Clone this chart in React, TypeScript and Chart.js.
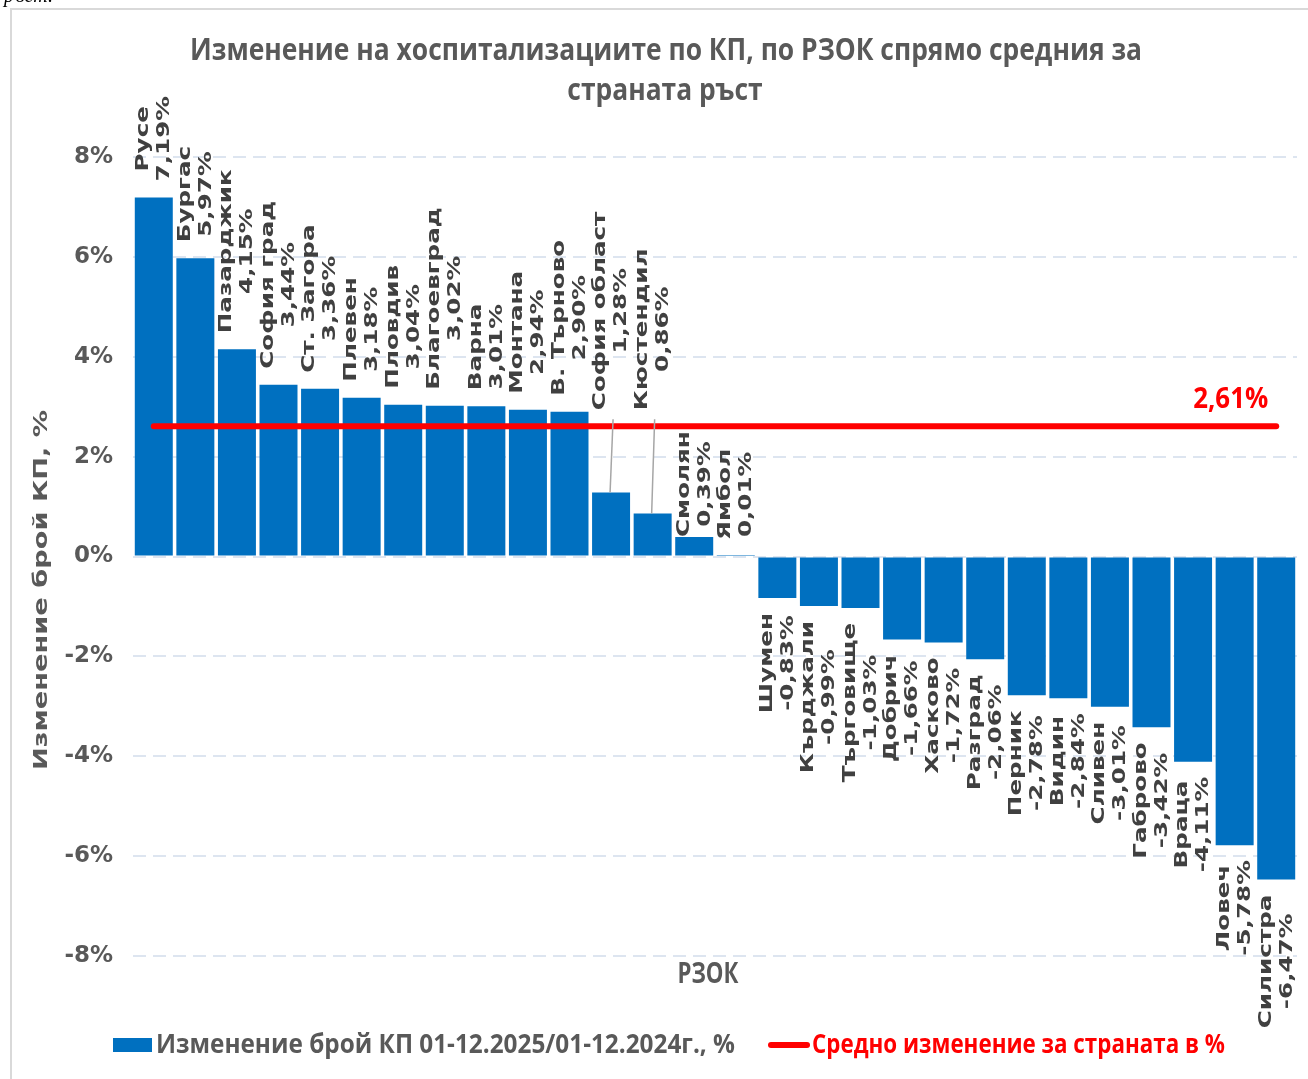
import { useEffect, useRef } from 'react';
import { Chart, registerables } from 'chart.js';

Chart.register(...registerables);

const categories = [
  'Русе', 'Бургас', 'Пазарджик', 'София град', 'Ст. Загора', 'Плевен', 'Пловдив',
  'Благоевград', 'Варна', 'Монтана', 'В. Търново', 'София област', 'Кюстендил',
  'Смолян', 'Ямбол', 'Шумен', 'Кърджали', 'Търговище', 'Добрич', 'Хасково',
  'Разград', 'Перник', 'Видин', 'Сливен', 'Габрово', 'Враца', 'Ловеч', 'Силистра',
];

const changeValues = [
  7.19, 5.97, 4.15, 3.44, 3.36, 3.18, 3.04, 3.02, 3.01, 2.94, 2.9, 1.28, 0.86,
  0.39, 0.01, -0.83, -0.99, -1.03, -1.66, -1.72, -2.06, -2.78, -2.84, -3.01,
  -3.42, -4.11, -5.78, -6.47,
];

const averageSeries = [
  2.61, 2.61, 2.61, 2.61, 2.61, 2.61, 2.61, 2.61, 2.61, 2.61, 2.61, 2.61, 2.61, 2.61,
  2.61, 2.61, 2.61, 2.61, 2.61, 2.61, 2.61, 2.61, 2.61, 2.61, 2.61, 2.61, 2.61, 2.61,
];

const yTickValues = [-8, -6, -4, -2, 0, 2, 4, 6, 8];

const titleLines = ['Изменение на хоспитализациите по КП, по РЗОК спрямо средния за', 'страната ръст'];
const seriesLabel = 'Изменение брой КП 01-12.2025/01-12.2024г., %';
const averageLabel = 'Средно изменение за страната в %';
const xAxisTitle = 'РЗОК';
const yAxisTitle = 'Изменение брой КП, %';

const leaderLabelNames = ['София област', 'Кюстендил'];
const snugLabelNames = ['Смолян'];

const fmt = (v: number) => v.toFixed(2).replace('.', ',') + '%';

const BLUE = '#0070C0';
const RED = '#FF0000';
const GRAY = '#595959';
const DARK = '#404040';

type TextOpts = {
  align?: CanvasTextAlign;
  baseline?: CanvasTextBaseline;
  rotate?: boolean;
  sx?: number;
  width?: number;
};

function drawText(
  ctx: CanvasRenderingContext2D,
  text: string,
  x: number,
  y: number,
  font: string,
  color: string,
  opts: TextOpts = {}
) {
  ctx.save();
  ctx.font = font;
  ctx.fillStyle = color;
  ctx.textAlign = opts.align || 'center';
  ctx.textBaseline = opts.baseline || 'alphabetic';
  const w = ctx.measureText(text).width;
  const sx = opts.width ? opts.width / w : opts.sx ?? 1;
  ctx.translate(x, y);
  if (opts.rotate) ctx.rotate(-Math.PI / 2);
  ctx.scale(sx, 1);
  ctx.fillText(text, 0, 0);
  ctx.restore();
  return sx;
}

const LABEL_FONT = 'bold 18.5px "DejaVu Sans"';
const LABEL_STRETCH = 1.33;

const decorPlugin = {
  id: 'decor',
  beforeDraw(chart: any) {
    const ctx: CanvasRenderingContext2D = chart.ctx;
    ctx.save();
    ctx.fillStyle = '#ffffff';
    ctx.fillRect(0, 0, chart.width, chart.height);
    ctx.fillStyle = '#d9d9d9';
    ctx.fillRect(10, 8, chart.width - 10, 2);
    ctx.fillRect(10, 8, 2, chart.height - 8);
    ctx.restore();
    drawText(ctx, 'ръст.', 4, 2, 'italic 20px "Liberation Serif"', '#000000', { align: 'left' });
  },
  afterDatasetsDraw(chart: any) {
    const ctx: CanvasRenderingContext2D = chart.ctx;
    const meta = chart.getDatasetMeta(0);
    const yScale = chart.scales.y;
    const avgY = yScale.getPixelForValue(averageSeries[0]);

    meta.data.forEach((bar: any, i: number) => {
      const v = changeValues[i];
      const name = categories[i];
      const val = fmt(v);
      ctx.save();
      ctx.font = LABEL_FONT;
      const len = Math.max(ctx.measureText(name).width, ctx.measureText(val).width) * LABEL_STRETCH;
      ctx.restore();
      const cx = bar.x;
      let center: number;
      if (v >= 0) {
        let base = bar.y;
        let gap = 16;
        if (leaderLabelNames.includes(name)) {
          base = avgY;
          ctx.save();
          ctx.strokeStyle = '#a6a6a6';
          ctx.lineWidth = 1.5;
          ctx.beginPath();
          ctx.moveTo(cx + 2, avgY - 7);
          ctx.lineTo(cx - 1, bar.y);
          ctx.stroke();
          ctx.restore();
        }
        if (snugLabelNames.includes(name)) gap = 0;
        center = base - gap - len / 2;
      } else {
        center = bar.y + 15 + len / 2;
      }
      drawText(ctx, name, cx - 10.5, center, LABEL_FONT, DARK, { rotate: true, baseline: 'middle', sx: LABEL_STRETCH });
      drawText(ctx, val, cx + 10.5, center, LABEL_FONT, DARK, { rotate: true, baseline: 'middle', sx: LABEL_STRETCH });
    });

    const lineMeta = chart.getDatasetMeta(1);
    const last = lineMeta.data[lineMeta.data.length - 1];
    drawText(ctx, fmt(averageSeries[averageSeries.length - 1]), last.x - 8, avgY - 18, 'bold 28px "Open Sans"', RED, {
      align: 'right',
      width: 75,
    });
  },
  afterDraw(chart: any) {
    const ctx: CanvasRenderingContext2D = chart.ctx;
    const titleFont = 'bold 31px "Open Sans"';
    const sx = drawText(ctx, titleLines[0], 666, 60, titleFont, GRAY, { width: 952 });
    drawText(ctx, titleLines[1], 665, 100, titleFont, GRAY, { sx });

    drawText(ctx, yAxisTitle, 42, 590, 'bold 20px "DejaVu Sans"', GRAY, { rotate: true, baseline: 'middle', width: 360 });
    drawText(ctx, xAxisTitle, 708, 983, 'bold 28px "Open Sans"', GRAY, { width: 61 });

    ctx.save();
    ctx.fillStyle = BLUE;
    ctx.fillRect(113, 1038, 39, 14);
    ctx.strokeStyle = RED;
    ctx.lineWidth = 6;
    ctx.lineCap = 'round';
    ctx.beginPath();
    ctx.moveTo(771, 1045);
    ctx.lineTo(807, 1045);
    ctx.stroke();
    ctx.restore();
    drawText(ctx, seriesLabel, 156, 1053, 'bold 26px "Open Sans"', GRAY, { align: 'left', width: 579 });
    drawText(ctx, averageLabel, 812, 1053, 'bold 26px "Open Sans"', RED, { align: 'left', width: 413 });
  },
};

export default function App() {
  const canvasRef = useRef<HTMLCanvasElement | null>(null);

  useEffect(() => {
    if (!canvasRef.current) return;
    const chart = new Chart(canvasRef.current, {
      type: 'bar',
      data: {
        labels: categories,
        datasets: [
          {
            type: 'bar',
            label: seriesLabel,
            data: changeValues,
            backgroundColor: BLUE,
            barPercentage: 0.914,
            categoryPercentage: 1,
            order: 1,
          },
          {
            type: 'line',
            label: averageLabel,
            data: averageSeries,
            borderColor: RED,
            backgroundColor: RED,
            borderWidth: 6,
            borderCapStyle: 'round',
            pointRadius: 0,
            fill: false,
            order: 0,
          } as any,
        ],
      },
      options: {
        responsive: false,
        animation: false,
        devicePixelRatio: 1,
        layout: { padding: { top: 157, bottom: 123, left: 0, right: 11 } },
        plugins: {
          legend: { display: false },
          title: { display: false },
          tooltip: { enabled: false },
        },
        scales: {
          x: { display: false, grid: { display: false } },
          y: {
            min: yTickValues[0],
            max: yTickValues[yTickValues.length - 1],
            afterFit: (scale: any) => {
              scale.width = 133;
            },
            afterBuildTicks: (scale: any) => {
              scale.ticks = yTickValues.map((value) => ({ value }));
            },
            grid: { color: '#dde5f0', lineWidth: 2, drawTicks: false },
            border: { display: false, dash: [13, 7] },
            ticks: {
              padding: 20,
              color: GRAY,
              font: { family: '"DejaVu Sans"', weight: 'bold', size: 23 },
              callback: (v: any) => `${v}%`,
            },
          },
        },
      },
      plugins: [decorPlugin],
    });
    return () => chart.destroy();
  }, []);

  return (
    <div style={{ position: 'absolute', left: 0, top: 0, width: 1308, height: 1079 }}>
      <canvas ref={canvasRef} width={1308} height={1079} />
    </div>
  );
}
